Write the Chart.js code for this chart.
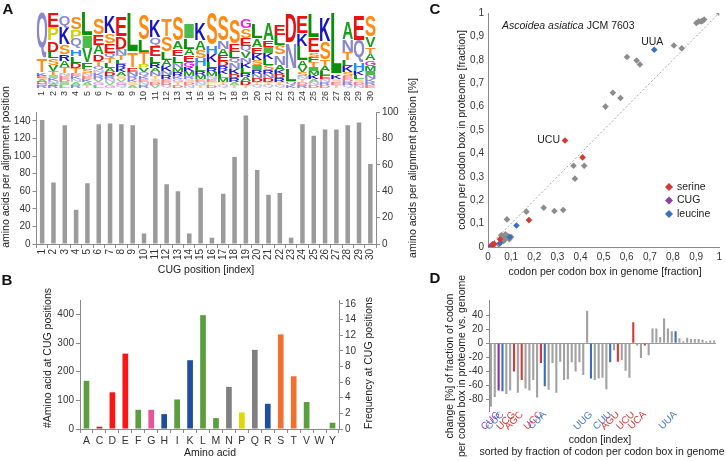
<!DOCTYPE html>
<html><head><meta charset="utf-8">
<script src="https://cdn.jsdelivr.net/npm/chart.js@4.4.1/dist/chart.umd.min.js"></script>
<style>
html,body{margin:0;padding:0;background:#fff;}
#wrap{position:relative;width:726px;height:461px;overflow:hidden;background:#fff;}
#wrap canvas{position:absolute;left:0;top:0;}
</style></head><body>
<div id="wrap">
<canvas id="cLogo" width="726" height="461"></canvas>
<canvas id="cA" width="726" height="461"></canvas>
<canvas id="cB" width="726" height="461"></canvas>
<canvas id="cC" width="726" height="461"></canvas>
<canvas id="cD" width="726" height="461"></canvas>
</div>
<script>
// ---------------- DATA ----------------
const cugPositions = ['1','2','3','4','5','6','7','8','9','10','11','12','13','14','15','16','17','18','19','20','21','22','23','24','25','26','27','28','29','30'];
const aaPerPosition = [141,70,135,39,69,136,137,136,135,12,120,68,60,12,64,7,57,99,146,84,56,58,7,136,123,130,130,135,138,91];

// sequence logo: letters per position (top -> bottom) and their heights
const logoLetters = ['QTKESADNR','EPDLSVTIKNAR','QKSRATNEDIL','SPQHLDTEKNAR','LIVFSNEKAT','SEADTQNKRVGL','KSEQTLADRNVG','EDNTLRKASVGQ','LTENRKSA','SLTPVQKENR','KQELRANTSDV','TSLAKNREDQ','SAELNMRKGTD','ILAEGKMRSDN','KASHLRMENT','SHKLRMNEPD','SNAEDRKLMTQ','SELQNKDRAT','GSEQVNKLRADT','LAEKSIRNDTQ','AEIKLSRNDTQ','ELSNAKDRTQ','DNLQK','EKLAVSNTDR','LESFTIMKAND','KSTALENRD','LKSET','ANTLKSEDRQ','EQHKLSDN','SVTAGMINKRE'];
const logoHeights = [
 [46,13,3,2,2,2,2,2,2],[14,13,11,6,7,6,4,3,3,3,2,2],[12,17,10,6,6,6,3,3,3,3,3],[12,9,10,7,7,5,5,3,3,3,3,3],
 [24,12,15,6,4,3,3,3,3,3],[17,10,9,7,5,4,3,3,3,3,3,3],[17,10,9,5,5,5,4,4,3,3,3,3],[20,12,6,5,4,4,4,4,3,3,3,3],
 [40,15,4,4,3,3,3,3],[26,12,12,4,4,4,3,3,3,3],[17,8,10,7,5,4,4,3,3,3,3],[17,15,8,6,5,4,4,3,3,3],
 [25,8,7,7,5,4,4,3,3,3,3],[15,10,6,7,5,4,5,3,3,3,3],[17,9,8,8,5,4,4,3,3,3],[33,8,8,6,4,4,3,3,3,3],
 [26,8,6,6,5,4,4,4,4,3,3],[24,8,6,5,6,5,4,4,3,3],[10,9,8,6,6,5,5,5,4,4,4,3],[14,8,7,6,5,5,4,4,4,3,3],
 [17,6,6,6,6,5,4,4,4,3,3],[10,10,10,10,5,4,4,4,3,3],[29,26,12,4,3],[17,12,15,6,5,4,3,3,3,3],
 [24,15,4,5,5,4,4,4,3,3,3],[24,18,6,5,4,4,3,3,3],[62,4,3,3,3],[18,12,8,6,6,4,3,3,3,3],
 [25,22,8,4,4,3,3,3],[22,10,7,6,6,5,4,4,3,3,3]
];

const aminoAcids = ['A','C','D','E','F','G','H','I','K','L','M','N','P','Q','R','S','T','V','W','Y'];
const aaCounts = [168,8,128,263,67,67,52,103,240,397,38,147,58,276,88,330,184,94,2,22];

// panel C: fraction of codon per codon box, genome (x) vs proteome (y)
const otherGenome   = [1.0,0.901,0.911,0.929,0.935,0.922,0.804,0.838,0.601,0.643,0.657,0.540,0.573,0.508,0.370,0.416,0.376,0.241,0.287,0.325,0.166,0.082,0.064,0.075,0.085,0.068,0.100,0.047,0.021,0.057,0.092,0.070,0.060,0.078];
const otherProteome = [1.0,0.957,0.964,0.967,0.972,0.964,0.861,0.849,0.812,0.797,0.780,0.659,0.637,0.600,0.347,0.347,0.292,0.168,0.154,0.158,0.151,0.118,0.040,0.054,0.047,0.026,0.043,0.011,0.004,0.050,0.033,0.048,0.030,0.038];
const serineGenome   = [0.333,0.409,0.177,0.052,0.027,0.020];
const serineProteome = [0.455,0.383,0.115,0.033,0.014,0.012];
const cugGenome   = [0.011];
const cugProteome = [0.004];
const leucineGenome   = [0.719,0.123,0.094,0.052,0.016];
const leucineProteome = [0.843,0.092,0.043,0.017,0.005];

// panel D: change [%], sorted by genome fraction
const codonChange = [-90,-76,-67,-68,-72,-67,-40,-70,-52,-64,-67,-52,-77,-28,-61,-66,-28,-70,-26,-52,-51,-27,-40,-27,-45,46,-50,-52,-50,-49,-65,-27,-10,-26,-24,-39,-49,30,-3,-21,-3,-17,21,21,9,35,21,17,17,7,3,8,6,6,6,5,3,4,4];
const codonLabels = ['','','CUG','CUC','','','UCG','','AGC','','','','','UCC','CUA','','','','','','','','','','','','UUG','','','','','CUU','','AGU','','','','UCU','','','UCA','','','','','','','','UUA','','','','','','','','','',''];
const serineCodons = ['UCG','AGC','UCC','AGU','UCU','UCA'];
const leucineCodons = ['CUC','CUA','UUG','CUU','UUA'];

// ---------------- SETUP ----------------
const FF = "'Liberation Sans', Arial, Helvetica, sans-serif";
Chart.defaults.font.family = FF;
Chart.defaults.font.size = 10;
Chart.defaults.color = '#333';
Chart.defaults.animation = false;
Chart.defaults.responsive = false;
Chart.defaults.devicePixelRatio = 1;
Chart.defaults.plugins.legend.display = false;
Chart.defaults.plugins.tooltip.enabled = false;

const W = 726, H = 461;
const AX = '#8a8a8a';
const setW = w => s => { s.width = w; };
const setH = h => s => { s.height = h; };
const setTicks = arr => s => { s.ticks = arr.map(v => ({value: v})); };
const range = (a, b, st) => { const r = []; for (let v = a; v <= b + 1e-9; v += st) r.push(Math.round(v * 1000) / 1000); return r; };

function textPlugin(items) {
  return { id: 'txt', afterDraw(chart) {
    const ctx = chart.ctx;
    items.forEach(it => {
      ctx.save();
      ctx.font = it.font || ("10.5px " + FF);
      ctx.fillStyle = it.color || '#1a1a1a';
      ctx.textAlign = it.align || 'center';
      ctx.textBaseline = 'middle';
      ctx.translate(it.x, it.y);
      if (it.rot) ctx.rotate(it.rot);
      ctx.fillText(it.text, 0, 0);
      ctx.restore();
    });
  }};
}
const R90 = -Math.PI / 2;

// ---------------- LOGO ----------------
const letterColor = {A:'#1c9c1c',V:'#1c9c1c',L:'#0a8f0a',I:'#4cbc4c',M:'#1c9c1c',F:'#1c9c1c',W:'#1c9c1c',Y:'#1c9c1c',C:'#a02828',
  E:'#ee1111',D:'#e51010',K:'#1414c0',R:'#1a1ac8',H:'#2a8cff',S:'#ff8a12',T:'#ff9020',Q:'#8888cc',N:'#8888cc',G:'#ee22ee',P:'#d2d200'};
const glyphCache = {};
function glyph(ctx, ch) {
  if (glyphCache[ch]) return glyphCache[ch];
  ctx.save();
  ctx.font = "bold 100px " + FF;
  const m = ctx.measureText(ch);
  ctx.restore();
  return glyphCache[ch] = {l: m.actualBoundingBoxLeft, r: m.actualBoundingBoxRight, a: m.actualBoundingBoxAscent, d: m.actualBoundingBoxDescent};
}
const logoPlugin = { id: 'logo', afterDatasetsDraw(chart) {
  const {ctx, scales: {x, y}} = chart;
  const cw = x.getPixelForValue(1) - x.getPixelForValue(0);
  logoLetters.forEach((letters, i) => {
    const cx = x.getPixelForValue(i);
    const hs = logoHeights[i];
    let base = 0;
    for (let k = letters.length - 1; k >= 0; k--) {
      const ch = letters[k], h = hs[k];
      const yb = y.getPixelForValue(base), yt = y.getPixelForValue(base + h);
      const g = glyph(ctx, ch);
      const gw = g.l + g.r, gh = g.a + g.d;
      const bw = cw * 0.92, bh = (yb - yt) * 0.96;
      ctx.save();
      ctx.translate(cx - bw / 2, yt);
      ctx.scale(bw / gw, bh / gh);
      ctx.font = "bold 100px " + FF;
      ctx.fillStyle = letterColor[ch] || '#888';
      ctx.globalAlpha = h < 3.5 ? 0.55 : 1;
      ctx.textAlign = 'left'; ctx.textBaseline = 'alphabetic';
      ctx.fillText(ch, g.l, g.a);
      ctx.restore();
      base += h;
    }
  });
}};

const LOGO = {L: 36.3, R: 376, T: 5, B: 88};
new Chart('cLogo', {
  type: 'bar',
  data: {labels: cugPositions, datasets: []},
  options: {
    layout: {padding: {left: LOGO.L, right: W - LOGO.R, top: LOGO.T, bottom: 0}},
    scales: {
      x: {type: 'category', offset: true, grid: {display: false, drawTicks: false}, border: {display: false},
          ticks: {autoSkip: false, minRotation: 90, maxRotation: 90, padding: 3, font: {size: 9}}, afterFit: setH(H - LOGO.B)},
      y: {display: false, min: 0, max: 83}
    }
  },
  plugins: [logoPlugin, textPlugin([
    {text: 'A', x: 8, y: 10, font: "bold 15px " + FF, color: '#111'}
  ])]
});

// ---------------- PANEL A bars ----------------
const PA = {L: 36.5, R: 376, T: 112, B: 244};
new Chart('cA', {
  type: 'bar',
  data: {labels: cugPositions, datasets: [{data: aaPerPosition, yAxisID: 'y', backgroundColor: '#9b9b9b', barPercentage: 0.4, categoryPercentage: 1}]},
  options: {
    layout: {padding: {left: 0, right: 0, top: PA.T, bottom: 0}},
    scales: {
      x: {offset: true, grid: {offset: true, drawOnChartArea: false, tickLength: 4, color: AX}, border: {color: AX},
          ticks: {autoSkip: false, minRotation: 90, maxRotation: 90, padding: 1}, afterFit: setH(H - PA.B)},
      y: {position: 'left', min: 0, max: 150, afterBuildTicks: setTicks(range(0, 140, 20)),
          grid: {drawOnChartArea: false, tickLength: 4, color: AX}, border: {color: AX}, ticks: {padding: 2}, afterFit: setW(PA.L)},
      y2: {position: 'right', min: 0, max: 100, afterBuildTicks: setTicks(range(0, 100, 10)),
           grid: {drawOnChartArea: false, tickLength: 4, color: AX}, border: {color: AX}, ticks: {padding: 2}, afterFit: setW(W - PA.R)}
    }
  },
  plugins: [textPlugin([
    {text: 'amino acids per alignment position', x: 6, y: 167, rot: R90},
    {text: 'amino acids per alignment position [%]', x: 413, y: 168, rot: R90},
    {text: 'CUG position [index]', x: 206, y: 270}
  ])]
});

// ---------------- PANEL B ----------------
const aaBarColors = {A:'#5a9e3e',C:'#a8282a',D:'#ff1414',E:'#ff1414',F:'#5a9e3e',G:'#e8559a',H:'#1f4ea0',I:'#5a9e3e',K:'#1f4ea0',L:'#5a9e3e',
  M:'#5a9e3e',N:'#808080',P:'#e0d800',Q:'#808080',R:'#1f4ea0',S:'#f07030',T:'#f07030',V:'#5a9e3e',W:'#5a9e3e',Y:'#5a9e3e'};
const PB = {L: 80, R: 339, T: 300, B: 429};
new Chart('cB', {
  type: 'bar',
  data: {labels: aminoAcids, datasets: [{data: aaCounts, yAxisID: 'y', backgroundColor: aminoAcids.map(a => aaBarColors[a]), barPercentage: 0.44, categoryPercentage: 1}]},
  options: {
    layout: {padding: {left: 0, right: 0, top: PB.T, bottom: 0}},
    scales: {
      x: {offset: true, grid: {offset: true, drawOnChartArea: false, tickLength: 4, color: AX}, border: {color: AX},
          ticks: {autoSkip: false, maxRotation: 0, minRotation: 0, padding: 2, font: {size: 10.5}}, afterFit: setH(H - PB.B)},
      y: {position: 'left', min: 0, max: 450, afterBuildTicks: setTicks(range(0, 450, 50)),
          grid: {drawOnChartArea: false, tickLength: 4, color: AX}, border: {color: AX}, ticks: {padding: 2}, afterFit: setW(PB.L)},
      y2: {position: 'right', min: 0, max: 16.5, afterBuildTicks: setTicks(range(0, 16, 2)),
           grid: {drawOnChartArea: false, tickLength: 4, color: AX}, border: {color: AX}, ticks: {padding: 2}, afterFit: setW(W - PB.R)}
    }
  },
  plugins: [textPlugin([
    {text: 'B', x: 7, y: 281, font: "bold 15px " + FF, color: '#111'},
    {text: '#Amino acid at CUG positions', x: 48, y: 358, rot: R90},
    {text: 'Frequency at CUG positions', x: 369, y: 363, rot: R90},
    {text: 'Amino acid', x: 210, y: 453}
  ])]
});

// ---------------- PANEL C ----------------
const PC = {L: 488, R: 723, T: 13, B: 247};
const pts = (xs, ys) => xs.map((v, i) => ({x: v, y: ys[i]}));
const fmtC = v => (v === 0 ? '0' : v === 1 ? '1' : Number(v).toFixed(1).replace('.', ','));
const cExtras = { id: 'cExtras', afterDraw(chart) {
  const {ctx, scales: {x, y}} = chart;
  ctx.save();
  ctx.fillStyle = '#1a1a1a';
  ctx.textBaseline = 'middle';
  ctx.font = "10.5px " + FF;
  ctx.textAlign = 'center';
  ctx.fillText('UUA', x.getPixelForValue(leucineGenome[0]) - 2, y.getPixelForValue(leucineProteome[0]) - 8);
  ctx.textAlign = 'right';
  ctx.fillText('UCU', x.getPixelForValue(serineGenome[0]) - 5, y.getPixelForValue(serineProteome[0]));
  // species name
  ctx.textAlign = 'left';
  ctx.font = "italic 10.5px " + FF;
  const s1 = 'Ascoidea asiatica';
  ctx.fillText(s1, 502, 26);
  const w1 = ctx.measureText(s1 + ' ').width;
  ctx.font = "10.5px " + FF;
  ctx.fillText('JCM 7603', 502 + w1, 26);
  // legend
  const leg = [['serine', '#d23a32'], ['CUG', '#8e3fa2'], ['leucine', '#3b6fc2']];
  leg.forEach((l, i) => {
    const cy = 187 + i * 13.5, cx = 669;
    ctx.fillStyle = l[1];
    ctx.beginPath(); ctx.moveTo(cx, cy - 4); ctx.lineTo(cx + 4, cy); ctx.lineTo(cx, cy + 4); ctx.lineTo(cx - 4, cy); ctx.closePath(); ctx.fill();
    ctx.fillStyle = '#1a1a1a';
    ctx.fillText(l[0], 677, cy);
  });
  ctx.restore();
}};
const ptStyle = c => ({pointStyle: 'rectRot', pointRadius: 3.3, pointBorderWidth: 0, backgroundColor: c, borderColor: c, showLine: false});
new Chart('cC', {
  type: 'scatter',
  data: {datasets: [
    {type: 'line', data: [{x: 0, y: 0}, {x: 1, y: 1}], borderColor: '#a8a8a8', borderWidth: 1, borderDash: [2, 2], pointRadius: 0, order: 5},
    Object.assign({data: pts(otherGenome, otherProteome), order: 4}, ptStyle('#8c8c8c')),
    Object.assign({data: pts(serineGenome, serineProteome), order: 1}, ptStyle('#d23a32')),
    Object.assign({data: pts(cugGenome, cugProteome), order: 1}, ptStyle('#8e3fa2')),
    Object.assign({data: pts(leucineGenome, leucineProteome), order: 1}, ptStyle('#3b6fc2'))
  ]},
  options: {
    layout: {padding: {left: 0, right: W - PC.R, top: PC.T, bottom: 0}},
    scales: {
      x: {type: 'linear', min: 0, max: 1, afterBuildTicks: setTicks(range(0, 1, 0.1)),
          grid: {display: false, drawTicks: false}, border: {color: AX}, ticks: {padding: 4, callback: fmtC}, afterFit: setH(H - PC.B)},
      y: {type: 'linear', min: 0, max: 1, afterBuildTicks: setTicks(range(0, 1, 0.1)),
          grid: {display: false, drawTicks: false}, border: {color: AX}, ticks: {padding: 4, callback: fmtC}, afterFit: setW(PC.L)}
    }
  },
  plugins: [cExtras, textPlugin([
    {text: 'C', x: 435, y: 10, font: "bold 15px " + FF, color: '#111'},
    {text: 'codon per codon box in proteome [fraction]', x: 462, y: 130, rot: R90},
    {text: 'codon per codon box in genome [fraction]', x: 605, y: 272}
  ])]
});

// ---------------- PANEL D ----------------
const PD = {L: 489, R: 716, T: 300, B: 411.7};
const codonGroupColor = (lab, kind) => {
  if (lab === 'CUG') return kind === 'bar' ? '#8533a3' : '#a040b8';
  if (serineCodons.includes(lab)) return kind === 'bar' ? '#cc3c3a' : '#e03a3a';
  if (leucineCodons.includes(lab)) return kind === 'bar' ? '#3d6cc0' : '#4a7ad0';
  return kind === 'bar' ? '#a2a2a2' : '#333';
};
new Chart('cD', {
  type: 'bar',
  data: {labels: codonLabels, datasets: [{data: codonChange, backgroundColor: codonLabels.map(l => codonGroupColor(l, 'bar')), barPercentage: 0.55, categoryPercentage: 1}]},
  options: {
    layout: {padding: {left: 0, right: W - PD.R, top: PD.T, bottom: 0}},
    scales: {
      x: {offset: true, grid: {display: false, drawTicks: false}, border: {display: false},
          ticks: {autoSkip: false, minRotation: 45, maxRotation: 45, padding: -3, font: {size: 10},
                  color: ctx => codonGroupColor(codonLabels[ctx.index], 'text')}, afterFit: setH(H - PD.B)},
      y: {min: -97, max: 61.4, afterBuildTicks: setTicks(range(-80, 40, 20)),
          grid: {drawOnChartArea: true, tickLength: 3, tickColor: AX, color: ctx => (ctx.tick && ctx.tick.value === 0) ? '#9a9a9a' : 'rgba(0,0,0,0)'},
          border: {color: AX}, ticks: {padding: 3}, afterFit: setW(PD.L)}
    }
  },
  plugins: [textPlugin([
    {text: 'D', x: 435, y: 279, font: "bold 15px " + FF, color: '#111'},
    {text: 'change [%] of fraction of codon', x: 450, y: 366, rot: R90},
    {text: 'per codon box in proteome vs. genome', x: 462, y: 366, rot: R90},
    {text: 'codon [index]', x: 600, y: 440},
    {text: 'sorted by fraction of codon per codon box in genome', x: 602, y: 452}
  ])]
});
</script>
</body></html>
